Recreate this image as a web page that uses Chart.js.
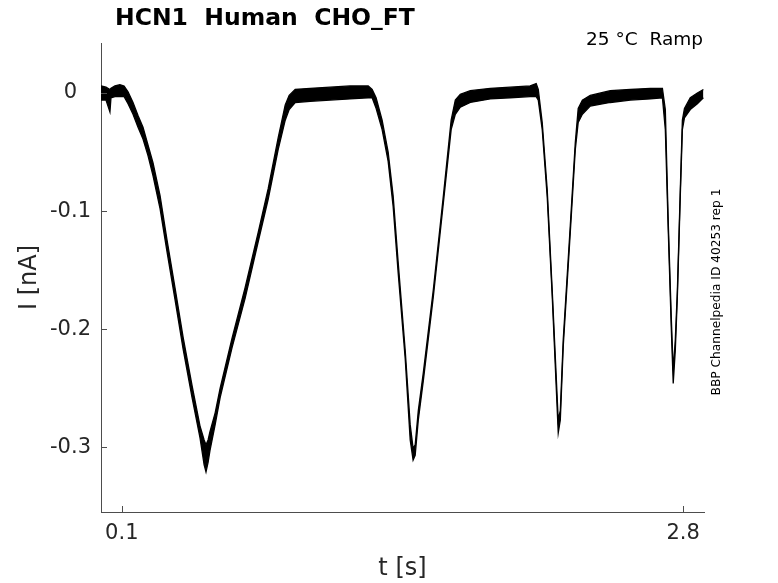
<!DOCTYPE html>
<html>
<head>
<meta charset="utf-8">
<title>HCN1 Human CHO_FT</title>
<style>
  body { margin: 0; background: #fff; }
  #wrap { width: 778px; height: 583px; position: relative; }
</style>
</head>
<body>
<div id="wrap"><canvas id="trace"></canvas></div>
<script src="https://cdn.jsdelivr.net/npm/chart.js"></script>
<script>
// time (s) and the upper / lower edge of the noisy current trace (nA)
const tSec = [0.000, 0.024, 0.043, 0.048, 0.067, 0.091, 0.111, 0.130, 0.154, 0.178,
  0.202, 0.226, 0.250, 0.284, 0.318, 0.356, 0.395, 0.438, 0.476, 0.496,
  0.505, 0.515, 0.524, 0.549, 0.573, 0.630, 0.693, 0.756, 0.804, 0.852,
  0.886, 0.905, 0.934, 1.006, 1.102, 1.198, 1.285, 1.304, 1.323, 1.352,
  1.381, 1.405, 1.429, 1.463, 1.487, 1.501, 1.511, 1.526, 1.550, 1.598,
  1.646, 1.684, 1.704, 1.728, 1.776, 1.872, 1.968, 2.064, 2.093, 2.103,
  2.122, 2.146, 2.170, 2.190, 2.199, 2.209, 2.223, 2.257, 2.281, 2.295,
  2.315, 2.353, 2.449, 2.546, 2.642, 2.700, 2.714, 2.728, 2.743, 2.752,
  2.762, 2.772, 2.786, 2.796, 2.806, 2.834, 2.868, 2.897];
const iHigh = [0.006, 0.005, 0.003, 0.004, 0.006, 0.007, 0.006, 0.001, -0.008, -0.019,
  -0.029, -0.044, -0.059, -0.087, -0.125, -0.165, -0.207, -0.248, -0.282, -0.294,
  -0.298, -0.294, -0.287, -0.271, -0.250, -0.208, -0.165, -0.118, -0.081, -0.038,
  -0.010, -0.002, 0.003, 0.004, 0.005, 0.006, 0.006, 0.003, -0.004, -0.023,
  -0.050, -0.087, -0.143, -0.218, -0.281, -0.301, -0.298, -0.269, -0.237, -0.167,
  -0.088, -0.023, -0.006, -0.001, 0.002, 0.004, 0.005, 0.006, 0.008, 0.003,
  -0.025, -0.082, -0.167, -0.243, -0.277, -0.269, -0.209, -0.112, -0.042, -0.013,
  -0.006, -0.002, 0.002, 0.003, 0.004, 0.004, -0.014, -0.109, -0.192, -0.235,
  -0.209, -0.167, -0.082, -0.023, -0.013, -0.004, 0.000, 0.003];
const iLow = [-0.006, -0.006, -0.016, -0.004, -0.003, -0.003, -0.003, -0.009, -0.018, -0.029,
  -0.039, -0.053, -0.070, -0.098, -0.135, -0.175, -0.217, -0.258, -0.292, -0.315,
  -0.321, -0.313, -0.303, -0.281, -0.258, -0.216, -0.174, -0.126, -0.090, -0.048,
  -0.023, -0.014, -0.008, -0.007, -0.006, -0.005, -0.004, -0.004, -0.013, -0.031,
  -0.058, -0.096, -0.152, -0.225, -0.294, -0.311, -0.307, -0.277, -0.244, -0.173,
  -0.094, -0.031, -0.018, -0.012, -0.008, -0.005, -0.004, -0.003, -0.003, -0.006,
  -0.031, -0.088, -0.172, -0.252, -0.288, -0.277, -0.215, -0.118, -0.048, -0.025,
  -0.018, -0.011, -0.008, -0.006, -0.005, -0.004, -0.031, -0.116, -0.201, -0.246,
  -0.218, -0.172, -0.087, -0.031, -0.021, -0.014, -0.009, -0.004];

const xTicks = [0.1, 2.8];
const yTicks = [0, -0.1, -0.2, -0.3];

const textColor = '#262626';
const axisColor = '#4d4d4d';
const fontName = "'DejaVu Sans', sans-serif";

// inward tick marks + the text annotations round the axes
const extras = {
  id: 'extras',
  afterDraw(chart) {
    const ctx = chart.ctx;
    const a = chart.chartArea;
    const sx = chart.scales.x, sy = chart.scales.y;
    ctx.save();
    ctx.strokeStyle = axisColor;
    ctx.lineWidth = 1;
    ctx.beginPath();
    sx.ticks.forEach(t => {
      const px = Math.round(sx.getPixelForValue(t.value)) + 0.5;
      ctx.moveTo(px, a.bottom);
      ctx.lineTo(px, a.bottom - 6);
    });
    sy.ticks.forEach(t => {
      const py = Math.round(sy.getPixelForValue(t.value)) + 0.5;
      ctx.moveTo(a.left, py);
      ctx.lineTo(a.left + 6, py);
    });
    ctx.stroke();

    ctx.fillStyle = '#000';
    ctx.font = 'bold 23.5px ' + fontName;
    ctx.textAlign = 'left';
    ctx.textBaseline = 'middle';
    ctx.fillText('HCN1  Human  CHO_FT', 115, 19);

    ctx.font = '18.5px ' + fontName;
    ctx.textAlign = 'right';
    ctx.fillText('25 °C  Ramp', a.right - 1, 40);

    ctx.font = '12.2px ' + fontName;
    ctx.textAlign = 'center';
    ctx.translate(717, 292);
    ctx.rotate(-Math.PI / 2);
    ctx.fillText('BBP Channelpedia ID 40253 rep 1', 0, 0);
    ctx.restore();
  }
};

const upper = tSec.map((t, k) => ({ x: t, y: iHigh[k] }));
const lower = tSec.map((t, k) => ({ x: t, y: iLow[k] }));

new Chart(document.getElementById('trace'), {
  type: 'line',
  data: {
    datasets: [
      { data: upper, borderColor: '#000', borderWidth: 1.3, pointRadius: 0, fill: false, tension: 0 },
      { data: lower, borderColor: '#000', borderWidth: 1.3, pointRadius: 0, fill: '-1',
        backgroundColor: '#000', tension: 0 }
    ]
  },
  options: {
    responsive: true,
    maintainAspectRatio: false,
    animation: false,
    layout: { padding: { top: 43, right: 74, left: 0, bottom: 0 } },
    plugins: { legend: { display: false }, tooltip: { enabled: false } },
    scales: {
      x: {
        type: 'linear', min: 0, max: 2.9,
        afterBuildTicks: s => { s.ticks = xTicks.map(v => ({ value: v })); },
        afterFit: s => { s.height = 71; },
        ticks: { color: textColor, font: { family: fontName, size: 21 }, padding: 9,
                 maxRotation: 0, callback: v => String(v) },
        grid: { display: false, drawTicks: false },
        border: { color: axisColor, width: 1 },
        title: { display: true, text: 't [s]', color: textColor,
                 font: { family: fontName, size: 24 }, padding: { top: 2, bottom: 0 } }
      },
      y: {
        type: 'linear', min: -0.355, max: 0.0424,
        afterBuildTicks: s => { s.ticks = yTicks.map(v => ({ value: v })); },
        afterFit: s => { s.width = 101; },
        ticks: { color: textColor, font: { family: fontName, size: 21 }, padding: 10,
                 crossAlign: 'center', callback: v => String(v) },
        grid: { display: false, drawTicks: false },
        border: { color: axisColor, width: 1 },
        title: { display: true, text: 'I [nA]', color: textColor,
                 font: { family: fontName, size: 24 }, padding: { top: 15, bottom: 0 } }
      }
    }
  },
  plugins: [extras]
});
</script>
</body>
</html>
